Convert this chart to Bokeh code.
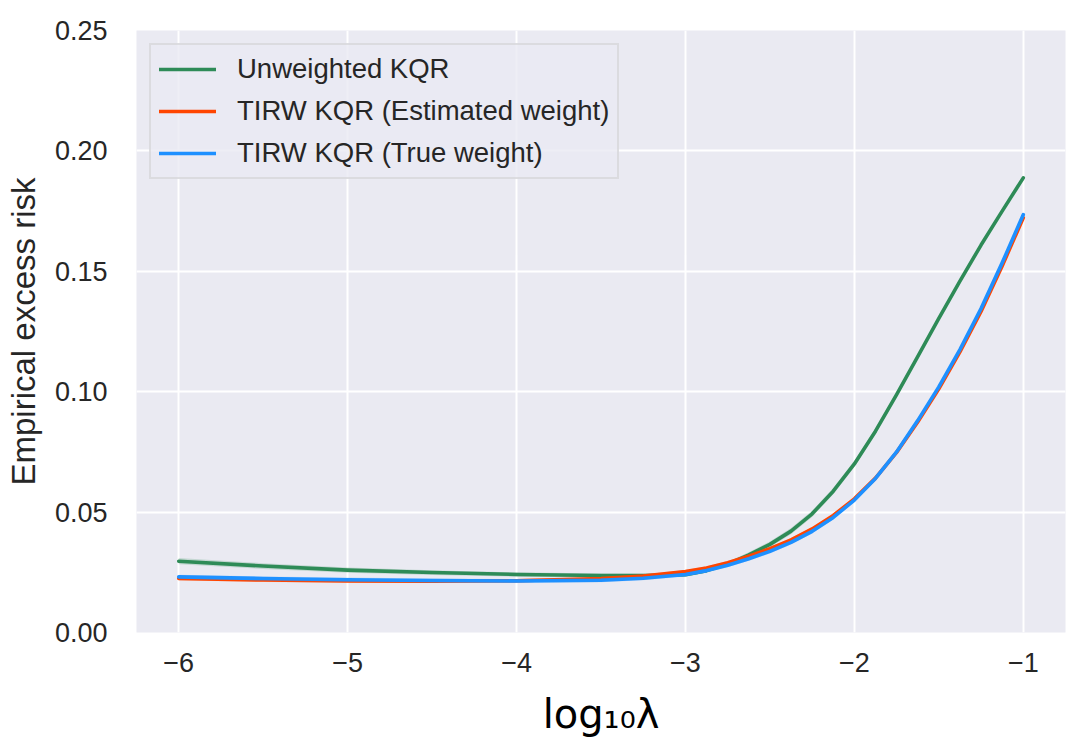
from bokeh.plotting import figure
from bokeh.models import Range1d, FixedTicker
from bokeh.embed import file_html
from bokeh.resources import INLINE

# ---- data ----
log_lambda = [-6, -5.5, -5, -4.5, -4, -3.5, -3.25, -3, -2.875, -2.75, -2.625, -2.5,
              -2.375, -2.25, -2.125, -2, -1.875, -1.75, -1.625, -1.5, -1.375, -1.25,
              -1.125, -1]

unweighted = [0.0296, 0.0276, 0.0259, 0.0249, 0.0241, 0.0237, 0.0236, 0.0240, 0.0257,
              0.0284, 0.0322, 0.0366, 0.0421, 0.0493, 0.0587, 0.0700, 0.0836, 0.0988,
              0.1146, 0.1304, 0.1459, 0.1609, 0.1750, 0.1888]
unweighted_sd = [0.0013, 0.0012, 0.0011, 0.0010, 0.0009, 0.0008, 0.0008, 0.0008, 0.0009,
                 0.0010, 0.0011, 0.0012, 0.0013, 0.0013, 0.0013, 0.0013, 0.0012, 0.0011,
                 0.0010, 0.0009, 0.0009, 0.0008, 0.0008, 0.0008]

tirw_est = [0.0224, 0.0218, 0.0214, 0.0213, 0.0215, 0.0224, 0.0234, 0.0253, 0.0268,
            0.0290, 0.0317, 0.0348, 0.0385, 0.0430, 0.0486, 0.0555, 0.0641, 0.0748,
            0.0874, 0.1012, 0.1165, 0.1333, 0.1522, 0.1722]
tirw_est_sd = [0.0008, 0.0008, 0.0007, 0.0007, 0.0007, 0.0007, 0.0007, 0.0007, 0.0007,
               0.0007, 0.0007, 0.0007, 0.0007, 0.0007, 0.0007, 0.0007, 0.0007, 0.0007,
               0.0007, 0.0007, 0.0007, 0.0007, 0.0007, 0.0007]

tirw_true = [0.0231, 0.0224, 0.0219, 0.0216, 0.0214, 0.0217, 0.0225, 0.0241, 0.0257,
             0.0279, 0.0306, 0.0337, 0.0374, 0.0420, 0.0478, 0.0550, 0.0640, 0.0750,
             0.0880, 0.1020, 0.1175, 0.1345, 0.1535, 0.1735]
tirw_true_sd = [0.0009, 0.0009, 0.0009, 0.0008, 0.0008, 0.0008, 0.0008, 0.0008, 0.0008,
                0.0008, 0.0008, 0.0009, 0.0009, 0.0009, 0.0009, 0.0009, 0.0009, 0.0008,
                0.0008, 0.0008, 0.0008, 0.0008, 0.0008, 0.0008]

series_names = ["Unweighted KQR", "TIRW KQR (Estimated weight)", "TIRW KQR (True weight)"]
series_colors = ["#2E8B57", "#FF4500", "#1E90FF"]

x_ticks = [-6, -5, -4, -3, -2, -1]
x_tick_labels = ["\u22126", "\u22125", "\u22124", "\u22123", "\u22122", "\u22121"]
y_ticks = [0.0, 0.05, 0.1, 0.15, 0.2, 0.25]
y_tick_labels = ["0.00", "0.05", "0.10", "0.15", "0.20", "0.25"]

x_label = "log\u2081\u2080\u03bb"
y_label = "Empirical excess risk"

TEXT = "#262626"
FONT = "Liberation Sans"

p = figure(width=1077, height=746, output_backend="svg", toolbar_location=None,
           x_range=Range1d(-6.25, -0.75), y_range=Range1d(0.0, 0.25),
           min_border_left=136, min_border_right=12, min_border_top=30,
           min_border_bottom=114)

p.background_fill_color = "#EAEAF2"
p.border_fill_color = "white"
p.outline_line_color = None

for g in (p.xgrid, p.ygrid):
    g.grid_line_color = "white"
    g.grid_line_width = 2

for ax in (p.xaxis, p.yaxis):
    ax.axis_line_color = None
    ax.major_tick_line_color = None
    ax.minor_tick_line_color = None
    ax.major_label_text_font = FONT
    ax.major_label_text_font_size = "27px"
    ax.major_label_text_color = TEXT
    ax.axis_label_text_color = TEXT
    ax.axis_label_text_font_style = "normal"

p.xaxis.ticker = FixedTicker(ticks=x_ticks)
p.xaxis.major_label_overrides = {t: l for t, l in zip(x_ticks, x_tick_labels)}
p.yaxis.ticker = FixedTicker(ticks=y_ticks)
p.yaxis.major_label_overrides = {t: l for t, l in zip(y_ticks, y_tick_labels)}
p.xaxis.major_label_standoff = 14
p.yaxis.major_label_standoff = 23

p.xaxis.axis_label = x_label
p.xaxis.axis_label_text_font = "DejaVu Sans"
p.xaxis.axis_label_text_font_size = "40px"
p.xaxis.axis_label_text_color = "black"
p.xaxis.axis_label_standoff = 16

p.yaxis.axis_label = y_label
p.yaxis.axis_label_text_font = FONT
p.yaxis.axis_label_text_font_size = "33px"
p.yaxis.axis_label_standoff = 10

series = [(unweighted, unweighted_sd), (tirw_est, tirw_est_sd), (tirw_true, tirw_true_sd)]
for (vals, sd), name, color in zip(series, series_names, series_colors):
    lo = [v - s for v, s in zip(vals, sd)]
    hi = [v + s for v, s in zip(vals, sd)]
    p.varea(x=log_lambda, y1=lo, y2=hi, fill_color=color, fill_alpha=0.2)
    p.line(log_lambda, vals, line_color=color, line_width=3.6,
           line_join="round", line_cap="round", legend_label=name)

lg = p.legend[0]
lg.location = "top_left"
lg.margin = 13
lg.padding = 8
lg.spacing = 10
lg.glyph_width = 57
lg.label_standoff = 21
lg.label_text_font = FONT
lg.label_text_font_size = "27.5px"
lg.label_text_color = TEXT
lg.background_fill_color = "#EAEAF2"
lg.background_fill_alpha = 0.8
lg.border_line_color = "#CCCCCC"
lg.border_line_width = 2

open("out.html", "w").write(file_html(p, INLINE))
